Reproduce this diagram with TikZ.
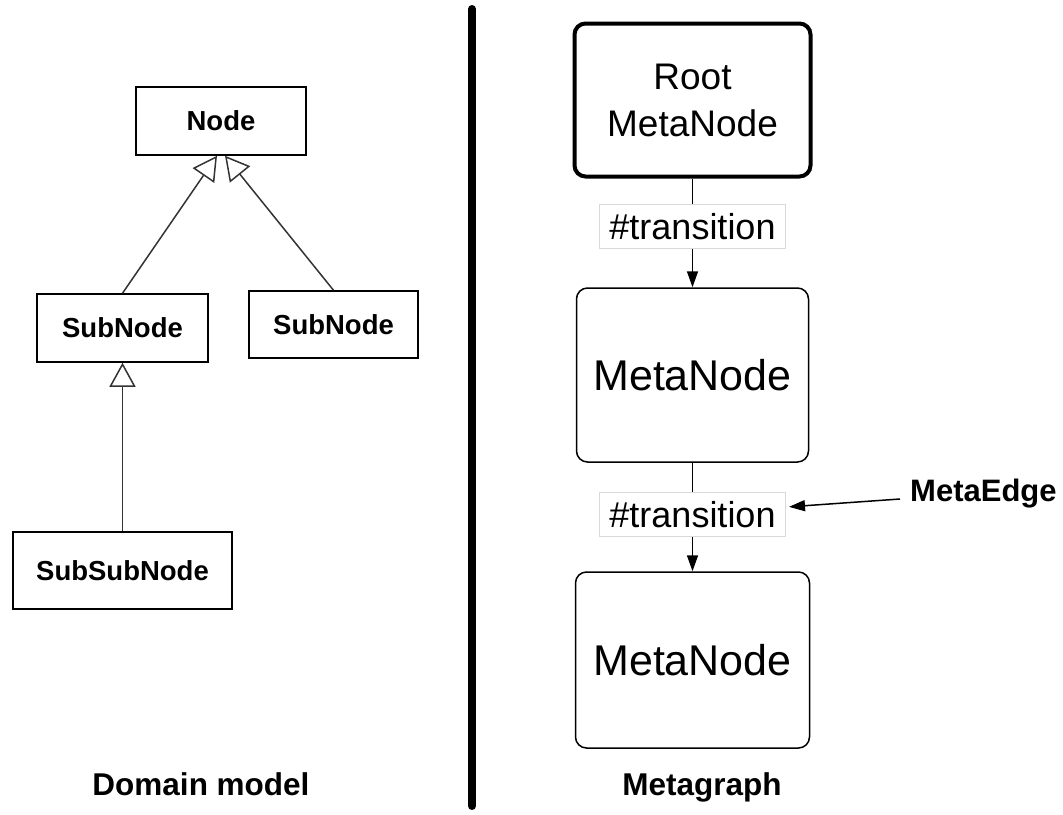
\documentclass[tikz,border=0pt]{standalone}
\usepackage{fontspec}
\setmainfont{Liberation Sans}
\usetikzlibrary{arrows.meta}
\newcommand{\fsz}[2]{\fontsize{#1}{#2}\selectfont}
\tikzset{
  umlbox/.style={draw=black, line width=1.5pt, fill=white, inner sep=0pt,
    font=\bfseries\fsz{27.5}{33}},
  inherit/.style={line width=1.5pt, draw=black!80,
    -{Triangle[open, length=24pt, width=26pt, line width=1.5pt]}},
  metabox/.style={draw=black, line width=1.5pt, rounded corners=11pt,
    inner sep=0pt, fill=white, font=\fsz{43}{50}},
  edgelabel/.style={draw=black!15, line width=1pt, fill=white, inner sep=0pt,
    minimum width=186pt, minimum height=44pt, font=\fsz{36}{40}},
  flow/.style={line width=1.5pt, -{Triangle[length=16pt, width=11pt]}},
  caption/.style={font=\bfseries\fsz{31.5}{36}, anchor=base},
}
\begin{document}
\begin{tikzpicture}[x=1pt, y=-1pt]
  \useasboundingbox (0,0) rectangle (1063,814);

  % ---- domain model (left) ----
  \node[umlbox, minimum width=170pt, minimum height=68pt] (node) at (221,121) {Node};
  \node[umlbox, minimum width=171pt, minimum height=68pt] (sub1) at (122.5,328) {SubNode};
  \node[umlbox, minimum width=169pt, minimum height=67pt] (sub2) at (333.5,324.5) {SubNode};
  \node[umlbox, minimum width=219pt, minimum height=77pt] (subsub) at (122.5,570.5) {SubSubNode};

  \draw[inherit] (sub1.north) -- ([xshift=-4pt]node.south);
  \draw[inherit] (sub2.north) -- ([xshift=4pt]node.south);
  \draw[inherit] (subsub.north) -- (sub1.south);

  \node[caption] (dm) at (201,795) {Domain model};

  % ---- separator ----
  \coordinate (septop) at (472,9);
  \coordinate (sepbot) at (472,806);
  \draw[line width=8pt, line cap=round] (septop) -- (sepbot);

  % ---- metagraph (right) ----
  \node[metabox, line width=4pt, minimum width=236pt, minimum height=153pt,
        align=center, font=\fsz{37}{47}] (root) at (692.5,100) {Root\\MetaNode};
  \node[metabox, minimum width=232pt, minimum height=174pt] (mn1) at (692.5,375) {MetaNode};
  \node[metabox, minimum width=234pt, minimum height=176pt] (mn2) at (692.5,660) {MetaNode};

  \draw[flow] (root.south) -- node[edgelabel, pos=0.44] (lab1) {\#transition} (mn1.north);
  \draw[flow] (mn1.south) -- node[edgelabel, pos=0.48] (lab2) {\#transition} (mn2.north);

  \node[font=\bfseries\fsz{31}{36}, inner sep=0pt, anchor=west] (medge) at (910,494) {MetaEdge};
  \draw[flow] ([xshift=-10pt, yshift=-5pt]medge.west) -- ([xshift=3pt, yshift=8pt]lab2.east);

  \node[caption] (mg) at (702,795) {Metagraph};
\end{tikzpicture}
\end{document}
